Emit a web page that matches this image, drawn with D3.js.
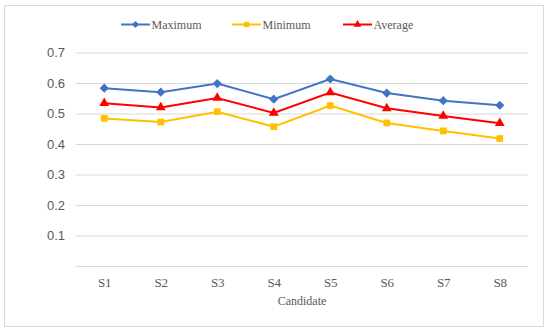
<!DOCTYPE html>
<html>
<head>
<meta charset="utf-8">
<script src="https://cdn.jsdelivr.net/npm/d3@7"></script>
<style>
  body { margin: 0; background: #fff; }
</style>
</head>
<body>
<svg id="chart" width="550" height="333"></svg>
<script>
const categories = ["S1", "S2", "S3", "S4", "S5", "S6", "S7", "S8"];
const maximum = [0.583, 0.570, 0.598, 0.547, 0.613, 0.567, 0.542, 0.527];
const minimum = [0.484, 0.472, 0.506, 0.457, 0.526, 0.469, 0.443, 0.418];
const average = [0.534, 0.520, 0.551, 0.502, 0.569, 0.517, 0.492, 0.468];
const yTicks = [0.1, 0.2, 0.3, 0.4, 0.5, 0.6, 0.7];

const serif = "'Liberation Serif', serif";
const sans = "'Liberation Sans', sans-serif";
const textColor = "#595959";

// diamond = square turned by 45 degrees
const series = [
  { name: "Maximum", values: maximum, color: "#4472C4", symbol: d3.symbolSquare, size: 42, rotate: 45 },
  { name: "Minimum", values: minimum, color: "#FFC000", symbol: d3.symbolSquare, size: 45, rotate: 0 },
  { name: "Average", values: average, color: "#FF0000", symbol: d3.symbolTriangle, size: 42, rotate: 0 }
];

const svg = d3.select("#chart");

// outer frame
svg.append("rect")
  .attr("x", 4.5).attr("y", 5.5)
  .attr("width", 539).attr("height", 321)
  .attr("fill", "#fff")
  .attr("stroke", "#d9d9d9");

const plotLeft = 76, plotRight = 528, plotTop = 52.5, plotBottom = 266;

const x = d3.scalePoint().domain(categories).range([plotLeft, plotRight]).padding(0.5);
const y = d3.scaleLinear().domain([0, 0.7]).range([plotBottom, plotTop]);

// gridlines + labels
const yAxis = svg.append("g")
  .attr("transform", `translate(${plotLeft},0)`)
  .call(d3.axisLeft(y).tickValues(yTicks).tickSize(-(plotRight - plotLeft)).tickPadding(11).tickFormat(d3.format(".1f")));
yAxis.select(".domain").remove();
yAxis.selectAll("line").attr("stroke", "#d9d9d9");
yAxis.selectAll("text").attr("font-size", 13).attr("font-family", sans).attr("fill", textColor);

// x axis
const xAxis = svg.append("g")
  .attr("transform", `translate(0,${plotBottom})`)
  .call(d3.axisBottom(x).tickSize(0).tickPadding(12));
xAxis.select(".domain").attr("stroke", "#d9d9d9").attr("d", `M${plotLeft},0.5H${plotRight}`);
xAxis.selectAll("text").attr("font-size", 13).attr("font-family", serif).attr("fill", textColor);

svg.append("text")
  .attr("x", (plotLeft + plotRight) / 2).attr("y", 305)
  .attr("text-anchor", "middle")
  .attr("font-size", 12)
  .attr("font-family", serif)
  .attr("fill", textColor)
  .text("Candidate");

// lines
const line = d3.line().x((d, i) => x(categories[i])).y(d => y(d));

series.forEach(s => {
  svg.append("path")
    .datum(s.values)
    .attr("fill", "none")
    .attr("stroke", s.color)
    .attr("stroke-width", 2)
    .attr("d", line);

  svg.selectAll(null)
    .data(s.values)
    .enter()
    .append("path")
    .attr("transform", (d, i) => `translate(${x(categories[i])},${y(d)}) rotate(${s.rotate})`)
    .attr("d", d3.symbol().type(s.symbol).size(s.size))
    .attr("fill", s.color);
});

// legend
const legendX = [121, 232, 343];
series.forEach((s, i) => {
  const g = svg.append("g").attr("transform", `translate(${legendX[i]},24.5)`);
  g.append("line").attr("x1", 0).attr("x2", 29).attr("stroke", s.color).attr("stroke-width", 2);
  g.append("path")
    .attr("transform", `translate(14.5,0) rotate(${s.rotate})`)
    .attr("d", d3.symbol().type(s.symbol).size(s.size * 0.6))
    .attr("fill", s.color);
  g.append("text").attr("x", 30.5).attr("y", 4)
    .attr("font-size", 12)
    .attr("font-family", serif)
    .attr("fill", textColor)
    .text(s.name);
});
</script>
</body>
</html>
